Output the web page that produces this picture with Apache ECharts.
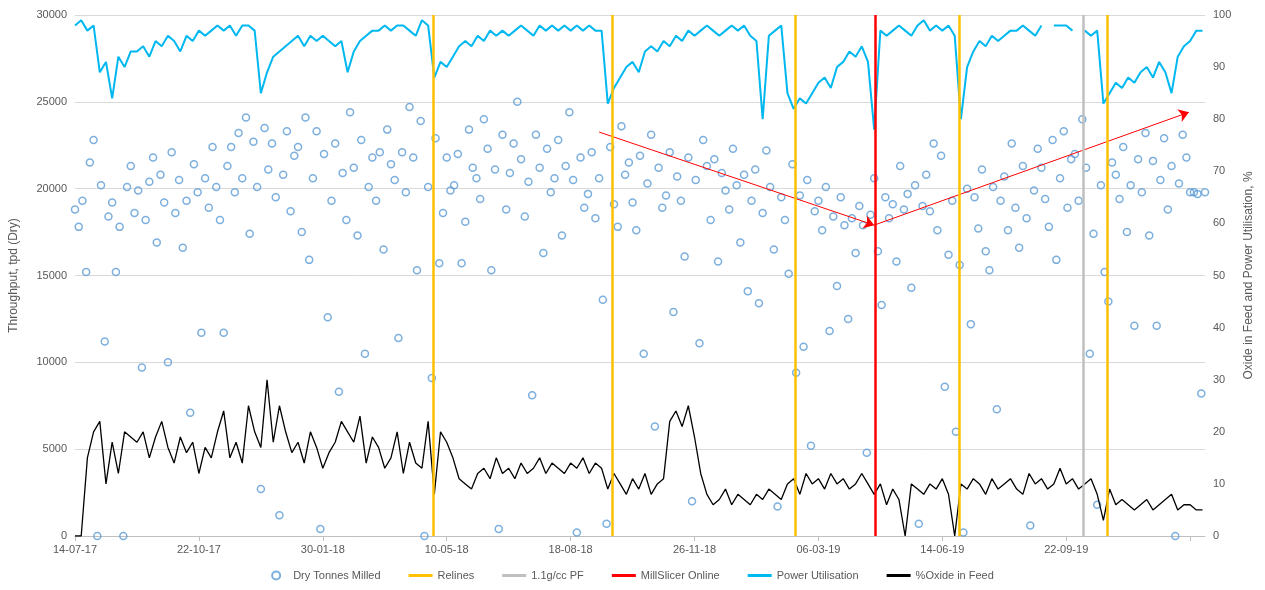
<!DOCTYPE html>
<html>
<head>
<meta charset="utf-8">
<script src="https://cdn.jsdelivr.net/npm/echarts@6/dist/echarts.min.js"></script>
<style>html,body{margin:0;padding:0;background:#fff}#chart{width:1265px;height:590px}</style>
</head>
<body>
<div id="chart"></div>
<script>
// Day 0 = 14-07-17
const startDate = new Date(2017, 6, 14);

// Dry tonnes milled, one point every 3 days
const dryTonnes = [
  18800,17800,19300,15200,21500,22800,0,20200,11200,18400,
  19200,15200,17800,0,20100,21300,18600,19900,9700,18200,
  20400,21800,16900,20800,19200,10000,22100,18600,20500,16600,
  19300,7100,21400,19800,11700,20600,18900,22400,20100,18200,
  11700,21300,22400,19800,23200,20600,24100,17400,22700,20100,
  2700,23500,21100,22600,19500,1200,20800,23300,18700,21900,
  22400,17500,24100,15900,20600,23300,400,22000,12600,19300,
  22600,8300,20900,18200,24400,21200,17300,22800,10500,20100,
  21800,19300,22100,16500,23400,21400,20500,11400,22100,19800,
  24700,21800,15300,23900,0,20100,9100,22900,15700,18600,
  21800,19900,20200,22000,15700,18100,23400,21200,20600,19400,
  24000,22300,15300,21100,400,23100,18800,20900,22600,25000,
  21700,18400,20400,8100,23100,21200,16300,22300,19800,20600,
  22800,17300,21300,24400,20500,200,21800,18900,19700,22100,
  18300,20600,13600,700,22400,19100,17800,23600,20800,21500,
  19200,17600,21900,10500,20300,23100,6300,21200,18900,19600,
  22100,12900,20700,19300,16100,21800,2000,20500,11100,22800,
  21300,18200,21700,15800,20900,19900,18800,22300,20200,16900,
  20800,14100,19300,21100,13400,18600,22200,20100,16500,1700,
  19500,18200,15100,21400,9400,19600,10900,20500,5200,18700,
  19300,17600,20100,11800,18400,14400,19500,17900,12500,18300,
  16300,19000,17900,4800,18500,20600,16400,13300,19500,18300,
  19100,15800,21300,18800,19700,14300,20200,700,19000,20800,
  18700,22600,17600,21900,8600,16200,19300,6000,15600,200,
  20000,12200,19500,17700,21100,16400,15300,20100,7300,19300,
  20700,17600,22600,18900,16600,21300,18300,600,19900,22300,
  21200,19400,17800,22800,15900,20600,23300,18900,21700,22000,
  19300,24000,21200,10500,17400,1800,20200,15200,13500,21500,
  20800,19400,22400,17500,20200,12100,21700,19800,23200,17300,
  21600,12100,20500,22900,18800,21300,0,20300,23100,21800,
  19800,19800,19700,8200,19800
];

// Power utilisation %, one point every 5 days (null = no data)
const powerUtil = [
  98,99,97,98,89,91,84,92,90,93,
  93,94,92,95,94,96,95,93,96,95,
  97,96,97,98,97,98,96,98,98,97,
  85,89,92,93,94,95,96,94,96,95,
  96,95,94,95,89,93,95,96,97,97,
  98,97,98,98,97,96,99,98,88,91,
  90,92,94,95,94,96,95,97,96,97,
  96,97,98,97,96,98,97,98,97,98,
  97,98,97,98,97,97,83,86,88,90,
  91,89,93,94,93,95,94,96,95,97,
  96,97,98,97,96,97,98,97,98,96,
  95,80,96,97,98,85,82,84,83,85,
  87,88,86,90,91,93,92,94,91,78,
  97,96,97,98,97,96,98,99,97,98,
  97,98,96,80,90,93,95,94,96,95,
  96,97,97,98,97,96,98,null,98,98,
  98,97,null,97,96,97,83,85,87,86,
  88,87,89,90,88,91,89,85,92,94,
  95,97,97
];

// %Oxide in feed, one point every 5 days
const oxide = [
  0,0,15,20,22,10,18,12,20,19,
  18,20,15,19,22,17,14,19,16,18,
  12,17,15,20,24,15,18,14,25,20,
  17,30,18,25,20,16,18,14,20,17,
  13,16,18,22,20,18,23,14,19,17,
  13,15,20,12,18,14,13,22,8,20,
  18,15,11,10,9,12,13,11,15,12,
  13,11,14,12,13,15,12,14,13,12,
  14,13,15,12,14,13,9,12,10,8,
  11,9,12,8,10,11,22,24,21,25,
  19,12,8,6,7,9,6,8,7,6,
  8,7,9,8,7,10,11,8,12,10,
  11,9,12,10,11,9,10,12,10,8,
  10,6,9,7,0,10,9,8,10,9,
  11,8,0,10,9,11,10,8,11,9,
  10,11,9,8,12,10,11,9,10,13,
  10,11,9,10,11,8,3,9,6,7,
  6,5,6,7,5,6,7,8,5,6,
  6,5,5
];

// event days (days since start)
const relineDays = [289, 434, 581, 714, 833];
const pfDays = [814];
const millSlicerDays = [646];

const scatterData = dryTonnes.map((v, i) => [i * 3, v]);
const powerData = powerUtil.map((v, i) => [i * 5, v]);
const oxideData = oxide.map((v, i) => [i * 5, v]);

function dayLabel(d) {
    if (d > 850) return "";
    const dt = new Date(startDate.getTime() + d * 86400000);
    const p = n => String(n).padStart(2, "0");
    return `${p(dt.getDate())}-${p(dt.getMonth() + 1)}-${String(dt.getFullYear()).slice(2)}`;
}

function vLines(days, color, width) {
    return {
        symbol: "none", silent: true, label: { show: false },
        lineStyle: { color: color, width: width, type: "solid" },
        data: days.map(d => ({ xAxis: d }))
    };
}

const lineIcon = "path://M0,0L24,0L24,3L0,3Z";
const chart = echarts.init(document.getElementById("chart"));
chart.setOption({
    animation: false,
    textStyle: { fontFamily: "Liberation Sans, Arial" },
    grid: { left: 75, right: 60, top: 15, bottom: 54 },
    legend: {
        bottom: 4, itemGap: 28, textStyle: { color: "#595959", fontSize: 11 },
        itemWidth: 24, itemHeight: 8,
        data: [
            { name: "Dry Tonnes Milled", icon: "circle" },
            { name: "Relines", icon: lineIcon },
            { name: "1.1g/cc PF", icon: lineIcon },
            { name: "MillSlicer Online", icon: lineIcon },
            { name: "Power Utilisation", icon: lineIcon },
            { name: "%Oxide in Feed", icon: lineIcon }
        ]
    },
    xAxis: {
        type: "value", min: 0, max: 912, interval: 100,
        axisLine: { show: true, lineStyle: { color: "#bfbfbf" } },
        axisTick: { show: true, lineStyle: { color: "#bfbfbf" } },
        splitLine: { show: false },
        axisLabel: { color: "#595959", fontSize: 11, showMaxLabel: false, formatter: v => dayLabel(v) }
    },
    yAxis: [
        {
            type: "value", min: 0, max: 30000, interval: 5000,
            name: "Throughput, tpd (Dry)", nameLocation: "middle", nameGap: 55,
            nameTextStyle: { color: "#595959", fontSize: 12 },
            axisLine: { show: false }, axisTick: { show: false },
            splitLine: { lineStyle: { color: "#d9d9d9" } },
            axisLabel: { color: "#595959", fontSize: 11, formatter: v => String(v) }
        },
        {
            type: "value", min: 0, max: 100, interval: 10,
            name: "Oxide in Feed and Power Utilisation, %", nameLocation: "middle", nameGap: 35,
            nameTextStyle: { color: "#595959", fontSize: 12 },
            axisLine: { show: false }, axisTick: { show: false },
            splitLine: { show: false },
            axisLabel: { color: "#595959", fontSize: 11 }
        }
    ],
    series: [
        {
            name: "Dry Tonnes Milled", type: "scatter", data: scatterData,
            symbol: "circle", symbolSize: 7,
            itemStyle: { color: "rgba(255,255,255,0)", borderColor: "#5b9bd5", borderWidth: 1.5 },
            markLine: {
                symbol: ["none", "arrow"], symbolSize: 10, silent: true, label: { show: false },
                lineStyle: { color: "#ff0000", width: 1, type: "solid" },
                data: [
                    [{ coord: [423, 23260] }, { coord: [645, 17900] }],
                    [{ coord: [645, 17900] }, { coord: [899, 24400] }]
                ]
            }
        },
        {
            name: "Relines", type: "line", data: [], itemStyle: { color: "#ffc000" },
            markLine: vLines(relineDays, "#ffc000", 2.5)
        },
        {
            name: "1.1g/cc PF", type: "line", data: [], itemStyle: { color: "#bfbfbf" },
            markLine: vLines(pfDays, "#bfbfbf", 2.5)
        },
        {
            name: "MillSlicer Online", type: "line", data: [], itemStyle: { color: "#ff0000" },
            markLine: vLines(millSlicerDays, "#ff0000", 2.5)
        },
        {
            name: "Power Utilisation", type: "line", yAxisIndex: 1, data: powerData,
            showSymbol: false, connectNulls: false,
            itemStyle: { color: "#00b8f0" }, lineStyle: { color: "#00b8f0", width: 2 }
        },
        {
            name: "%Oxide in Feed", type: "line", yAxisIndex: 1, data: oxideData,
            showSymbol: false,
            itemStyle: { color: "#000" }, lineStyle: { color: "#000", width: 1.3 }
        }
    ]
});
window.addEventListener("resize", () => chart.resize());
</script>
</body>
</html>
